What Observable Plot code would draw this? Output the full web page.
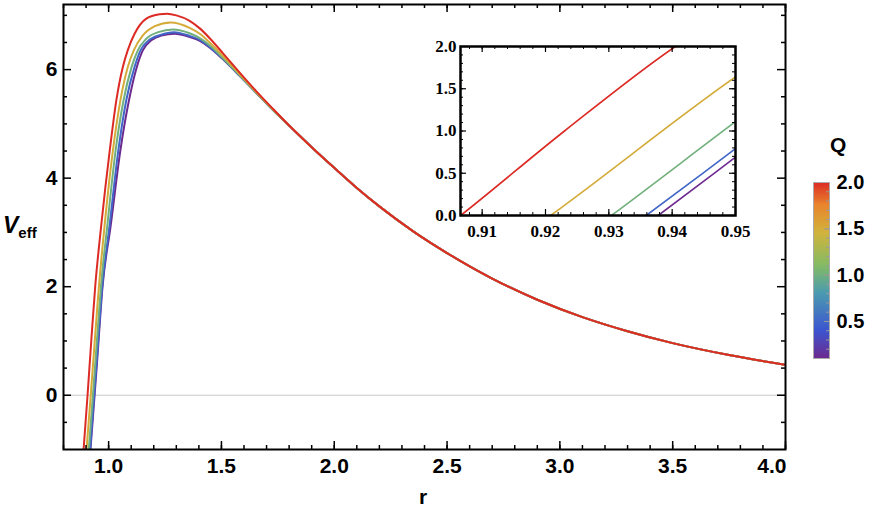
<!DOCTYPE html>
<html><head><meta charset="utf-8">
<script src="https://cdn.jsdelivr.net/npm/d3@7"></script>
<script src="https://cdn.jsdelivr.net/npm/@observablehq/plot@0.6"></script>
<style>
body{margin:0;background:#fff;}
#wrap{position:relative;width:874px;height:515px;overflow:hidden;font-family:"Liberation Sans",Arial,sans-serif;}
#wrap svg{position:absolute;}
.lab{position:absolute;font-weight:bold;color:#000;line-height:1;white-space:nowrap;}
</style></head><body><div id="wrap"></div>
<script>
// ---- data ----
const Q = [0.1, 0.5, 1.0, 1.5, 2.0];

const r_q01 = [0.9195, 0.9378, 0.95, 0.973, 1.009, 1.052, 1.090, 1.125, 1.152, 1.189, 1.234, 1.293, 1.359, 1.404, 1.45, 1.507, 1.58, 1.655, 1.73, 1.8];
const v_q01 = [-1, 0, 0.69, 2.0, 3.12, 4.51, 5.43, 6.05, 6.36, 6.54, 6.63, 6.66, 6.60, 6.53, 6.40, 6.19, 5.89, 5.57, 5.25, 4.97];

const r_q05 = [0.918, 0.9359, 0.95, 0.9716, 1.004, 1.043, 1.078, 1.115, 1.142, 1.175, 1.23, 1.29, 1.359, 1.404, 1.45, 1.507, 1.58, 1.655, 1.73, 1.8];
const v_q05 = [-1, 0, 0.79, 2.0, 3.12, 4.51, 5.43, 6.05, 6.36, 6.53, 6.64, 6.69, 6.62, 6.55, 6.41, 6.20, 5.89, 5.57, 5.25, 4.97];

const r_q10 = [0.912, 0.9304, 0.95, 0.966, 0.994, 1.031, 1.066, 1.102, 1.130, 1.165, 1.22, 1.285, 1.359, 1.404, 1.45, 1.507, 1.58, 1.655, 1.73, 1.8];
const v_q10 = [-1, 0, 1.11, 2.0, 3.12, 4.51, 5.43, 6.05, 6.36, 6.56, 6.69, 6.74, 6.67, 6.58, 6.44, 6.21, 5.90, 5.57, 5.25, 4.97];

const r_q15 = [0.902, 0.9208, 0.95, 0.957, 0.982, 1.019, 1.052, 1.085, 1.112, 1.15, 1.205, 1.275, 1.359, 1.404, 1.45, 1.507, 1.58, 1.655, 1.73, 1.8];
const v_q15 = [-1, 0, 1.64, 2.0, 3.12, 4.51, 5.43, 6.05, 6.36, 6.62, 6.80, 6.87, 6.77, 6.66, 6.49, 6.25, 5.92, 5.58, 5.26, 4.97];

const r_q20 = [0.889, 0.9066, 0.923, 0.9405, 0.967, 1.005, 1.034, 1.063, 1.085, 1.115, 1.167, 1.226, 1.259, 1.30, 1.359, 1.404, 1.45, 1.507, 1.58, 1.655, 1.73, 1.8];
const v_q20 = [-1, 0, 1.0, 2.0, 3.12, 4.51, 5.43, 6.05, 6.36, 6.66, 6.94, 7.02, 7.03, 7.00, 6.90, 6.76, 6.57, 6.30, 5.95, 5.60, 5.27, 4.97];

// all curves coincide for r >= 1.9
const r_tail = [1.9, 2.0, 2.1, 2.2, 2.35, 2.5, 2.7, 2.9, 3.1, 3.3, 3.5, 3.75, 4.0];
const v_tail = [4.57, 4.19, 3.82, 3.48, 3.02, 2.62, 2.15, 1.76, 1.44, 1.18, 0.96, 0.74, 0.56];

// tick values
const xMajor = [1.0, 1.5, 2.0, 2.5, 3.0, 3.5, 4.0];
const xMinor = d3.range(0.8, 4.001, 0.1).map(d => +d.toFixed(2));
const yMajor = [0, 2, 4, 6];
const yMinor = [-0.5, 0.5, 1, 1.5, 2.5, 3, 3.5, 4.5, 5, 5.5, 6.5, 7];
const inXMajor = [0.91, 0.92, 0.93, 0.94, 0.95];
const inXMinor = d3.range(0.908, 0.9501, 0.002).map(d => +d.toFixed(3));
const inYMajor = [0, 0.5, 1.0, 1.5, 2.0];
const inYMinor = d3.range(0.1, 2.0, 0.1).map(d => +d.toFixed(1));
const barTicks = [0.5, 1.0, 1.5, 2.0];
const barMinor = d3.range(0.2, 2.0, 0.1).map(d => +d.toFixed(1));

// rainbow colour scale (Q)
const cStops = [0.1, 0.4, 0.8, 1.1, 1.45, 1.75, 2.0];
const cColors = ["#6c2a8f", "#3c55d0", "#4a9ab0", "#84bb64", "#d0b33c", "#e9852c", "#dc2a24"];
const colorOpt = {type: "linear", domain: cStops, range: cColors, interpolate: "rgb"};

const series = [
  {q: Q[0], r: r_q01, v: v_q01},
  {q: Q[1], r: r_q05, v: v_q05},
  {q: Q[2], r: r_q10, v: v_q10},
  {q: Q[3], r: r_q15, v: v_q15},
  {q: Q[4], r: r_q20, v: v_q20}
];
const rows = series.flatMap(s => [
  ...s.r.map((r, i) => ({q: s.q, r, v: s.v[i]})),
  ...r_tail.map((r, i) => ({q: s.q, r, v: v_tail[i]}))
]);

const wrap = document.getElementById("wrap");
const SANS = "Liberation Sans, Arial, sans-serif";
const SERIF = "Liberation Serif, Times New Roman, serif";

// ---- main chart ----
const W = 874, H = 515, mL = 63, mR = 89, mT = 4, mB = 66;
const iH = H - mT - mB, iW = W - mL - mR;
const xLab = xMajor.slice(0, -1), xLast = xMajor.slice(-1);
const main = Plot.plot({
  width: W, height: H,
  marginLeft: mL, marginRight: mR, marginTop: mT, marginBottom: mB,
  style: {background: "transparent", overflow: "visible"},
  x: {domain: [0.8, 4.0], axis: null},
  y: {domain: [-1, 7.2], axis: null},
  color: colorOpt,
  marks: [
    Plot.ruleY([0], {stroke: "#c8c8c8", strokeWidth: 1}),
    Plot.line(rows, {x: "r", y: "v", z: "q", stroke: "q", strokeWidth: 2, curve: "monotone-x", clip: true}),
    Plot.ruleX(xMinor, {x: d => d, insetTop: iH - 4, stroke: "black", strokeWidth: 1.5}),
    Plot.ruleX(xMinor, {x: d => d, insetBottom: iH - 4, stroke: "black", strokeWidth: 1.5}),
    Plot.ruleX(xMajor, {x: d => d, insetTop: iH - 8, stroke: "black", strokeWidth: 1.5}),
    Plot.ruleX(xMajor, {x: d => d, insetBottom: iH - 8, stroke: "black", strokeWidth: 1.5}),
    Plot.ruleY(yMinor, {y: d => d, insetRight: iW - 4, stroke: "black", strokeWidth: 1.5}),
    Plot.ruleY(yMinor, {y: d => d, insetLeft: iW - 4, stroke: "black", strokeWidth: 1.5}),
    Plot.ruleY(yMajor, {y: d => d, insetRight: iW - 8, stroke: "black", strokeWidth: 1.5}),
    Plot.ruleY(yMajor, {y: d => d, insetLeft: iW - 8, stroke: "black", strokeWidth: 1.5}),
    Plot.frame({stroke: "black", strokeWidth: 2}),
    Plot.text(xLab, {x: d => d, y: -1, text: d => d.toFixed(1), dy: 17, fontSize: 21, fontWeight: "bold", fontFamily: SANS, fill: "black"}),
    Plot.text(xLast, {x: d => d, y: -1, text: d => d.toFixed(1), dy: 17, dx: 1, textAnchor: "end", fontSize: 21, fontWeight: "bold", fontFamily: SANS, fill: "black"}),
    Plot.text(yMajor, {x: 0.8, y: d => d, text: d => String(d), dx: -6, textAnchor: "end", fontSize: 21, fontWeight: "bold", fontFamily: SANS, fill: "black"})
  ]
});
main.style.left = "0px"; main.style.top = "0px";
wrap.appendChild(main);

// ---- inset ----
const inL = 45, inT = 10, inR = 15, inB = 30, inW = 275, inH = 169;
const inset = Plot.plot({
  width: inW + inL + inR, height: inH + inT + inB,
  marginLeft: inL, marginRight: inR, marginTop: inT, marginBottom: inB,
  style: {background: "transparent", overflow: "visible"},
  x: {domain: [0.90658, 0.95], axis: null},
  y: {domain: [0, 2], axis: null},
  color: colorOpt,
  marks: [
    Plot.frame({fill: "white"}),
    Plot.line(rows, {x: "r", y: "v", z: "q", stroke: "q", strokeWidth: 1.6, curve: "monotone-x", clip: true}),
    Plot.ruleX(inXMinor, {x: d => d, insetTop: inH - 3, stroke: "black", strokeWidth: 1}),
    Plot.ruleX(inXMinor, {x: d => d, insetBottom: inH - 3, stroke: "black", strokeWidth: 1}),
    Plot.ruleX(inXMajor, {x: d => d, insetTop: inH - 6, stroke: "black", strokeWidth: 1.2}),
    Plot.ruleX(inXMajor, {x: d => d, insetBottom: inH - 6, stroke: "black", strokeWidth: 1.2}),
    Plot.ruleY(inYMinor, {y: d => d, insetRight: inW - 3, stroke: "black", strokeWidth: 1}),
    Plot.ruleY(inYMinor, {y: d => d, insetLeft: inW - 3, stroke: "black", strokeWidth: 1}),
    Plot.ruleY(inYMajor, {y: d => d, insetRight: inW - 6, stroke: "black", strokeWidth: 1.2}),
    Plot.ruleY(inYMajor, {y: d => d, insetLeft: inW - 6, stroke: "black", strokeWidth: 1.2}),
    Plot.frame({stroke: "black", strokeWidth: 2.5}),
    Plot.text(inXMajor, {x: d => d, y: 0, text: d => d.toFixed(2), dy: 16, fontSize: 17, fontWeight: "bold", fontFamily: SERIF, fill: "black"}),
    Plot.text(inYMajor, {x: 0.90658, y: d => d, text: d => d.toFixed(1), dx: -4, textAnchor: "end", fontSize: 17, fontWeight: "bold", fontFamily: SERIF, fill: "black"})
  ]
});
inset.style.left = (460 - inL) + "px"; inset.style.top = (46 - inT) + "px";
wrap.appendChild(inset);

// ---- colour bar ----
const bL = 23, bR = 45, bT = 52, bB = 12, bW = 16, bH = 176;
const steps = d3.range(0.1, 2.0, 0.01).map(d => +d.toFixed(2));
const bar = Plot.plot({
  width: bL + bW + bR, height: bT + bH + bB,
  marginLeft: bL, marginRight: bR, marginTop: bT, marginBottom: bB,
  style: {background: "transparent", overflow: "visible"},
  x: {domain: [0, 1], axis: null},
  y: {domain: [0.1, 2.0], axis: null},
  color: colorOpt,
  marks: [
    Plot.rect(steps, {x1: 0, x2: 1, y1: d => d, y2: d => Math.min(2.0, d + 0.02), fill: d => d + 0.005, shapeRendering: "crispEdges"}),
    Plot.ruleY(barMinor, {y: d => d, insetLeft: bW - 3, stroke: "#999", strokeWidth: 1}),
    Plot.ruleY(barTicks, {y: d => d, insetLeft: bW - 5, stroke: "#999", strokeWidth: 1}),
    Plot.frame({stroke: "#aaa", strokeWidth: 1}),
    Plot.text(barTicks, {x: 1, y: d => d, text: d => d.toFixed(1), dx: 7, textAnchor: "start", fontSize: 20, fontWeight: "bold", fontFamily: SANS, fill: "black"})
  ]
});
bar.style.left = "790px"; bar.style.top = "130px";
wrap.appendChild(bar);

// ---- axis titles ----
function lab(html, x, y, css) {
  const d = document.createElement("div");
  d.className = "lab"; d.innerHTML = html;
  d.style.left = x + "px"; d.style.top = y + "px";
  Object.assign(d.style, css || {});
  wrap.appendChild(d);
  return d;
}
lab("r", 419, 486, {fontSize: "21px"});
lab("Q", 830, 134, {fontSize: "21px"});
lab('<span style="font-style:italic;font-size:23px">V</span><span style="font-size:15px;position:relative;top:5px">eff</span>', 3, 214, {});
</script></body></html>
